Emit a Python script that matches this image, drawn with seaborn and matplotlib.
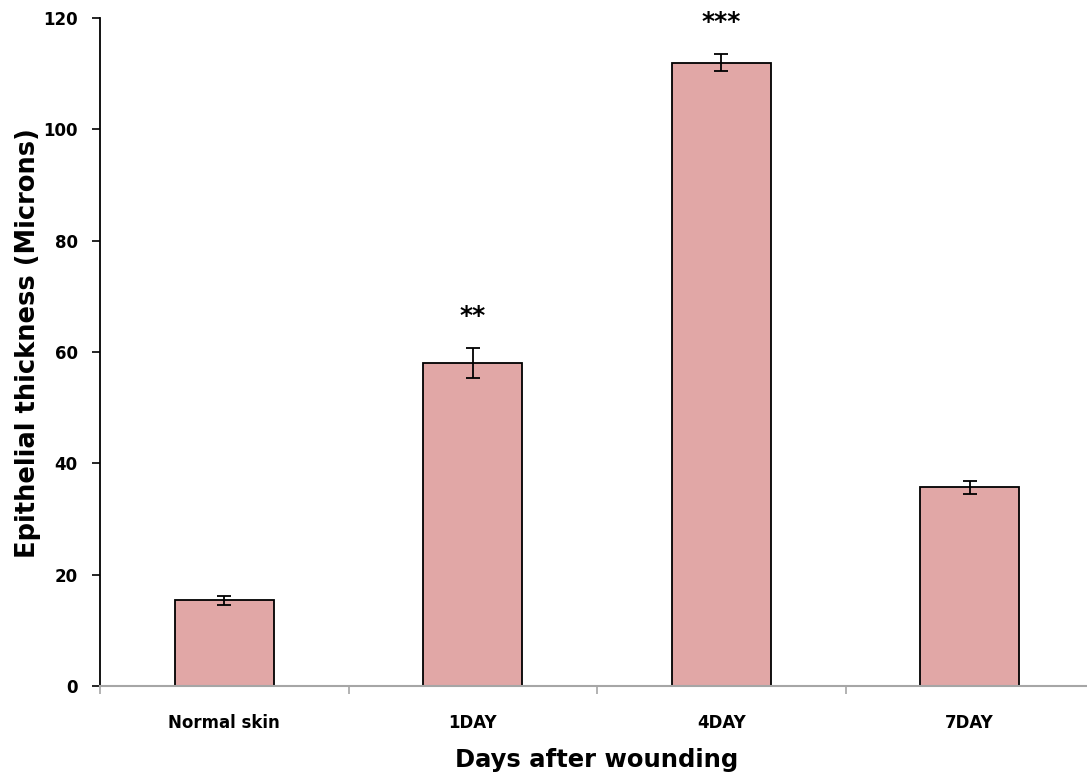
import matplotlib
matplotlib.use("Agg")
import matplotlib.pyplot as plt
import seaborn as sns
import pandas as pd
import numpy as np

categories = ["Normal skin", "1DAY", "4DAY", "7DAY"]
means = [15.4, 58.0, 112.0, 35.7]
errors = [0.8, 2.7, 1.5, 1.2]
stars = ["", "**", "***", ""]

sns.set_theme(style="white")
plt.rcParams['font.family'] = ['DejaVu Sans']
plt.rcParams['text.color'] = 'black'
plt.rcParams['axes.labelcolor'] = 'black'
plt.rcParams['xtick.color'] = 'black'
plt.rcParams['ytick.color'] = 'black'

df = pd.DataFrame({"cat": categories, "val": means})

fig = plt.figure(figsize=(10.87, 7.75), dpi=100)
ax = fig.add_axes([100/1087, 89/775, 994/1087, 668/775])

sns.barplot(data=df, x="cat", y="val", color="#E1A7A6", saturation=1,
            width=0.4, edgecolor="black", linewidth=1.3, errorbar=None, ax=ax)
ax.errorbar(np.arange(len(categories)), means, yerr=errors, fmt="none",
            ecolor="black", elinewidth=1.3, capsize=5, capthick=1.3)

for i, s in enumerate(stars):
    if s:
        ax.text(i, means[i] + errors[i] + 3.6, s, ha="center", va="bottom",
                fontsize=18, fontweight="bold", color="black")

ax.set_xlim(-0.5, 3.5)
ax.set_ylim(0, 120)
ax.set_yticks(range(0, 121, 20))
ax.set_xticks(range(4))
ax.set_xticklabels(categories, fontsize=12, fontweight="bold", color="black")
ax.set_xticks([0.5, 1.5, 2.5, 3.5, -0.5], minor=True)
ax.tick_params(axis="x", which="major", length=0, pad=20)
ax.tick_params(axis="x", which="minor", length=6, width=1.2, color="#A6A6A6", direction="out", bottom=True)
ax.tick_params(axis="y", length=6, width=1.2, color="black", direction="out", left=True,
               labelsize=12, pad=10, labelcolor="black")
for lbl in ax.get_yticklabels():
    lbl.set_fontweight("bold")

for side in ["top", "right"]:
    ax.spines[side].set_visible(False)
ax.spines["left"].set_color("black")
ax.spines["left"].set_linewidth(1.3)
ax.spines["bottom"].set_color("#A6A6A6")
ax.spines["bottom"].set_linewidth(1.5)

ax.set_xlabel("Days after wounding", fontsize=17.5, fontweight="bold", labelpad=12, color="black")
ax.set_ylabel("Epithelial thickness (Microns)", fontsize=18.5, fontweight="bold", color="black")
ax.yaxis.set_label_coords(-0.059, 0.513)

fig.savefig("out.png", dpi=100)
